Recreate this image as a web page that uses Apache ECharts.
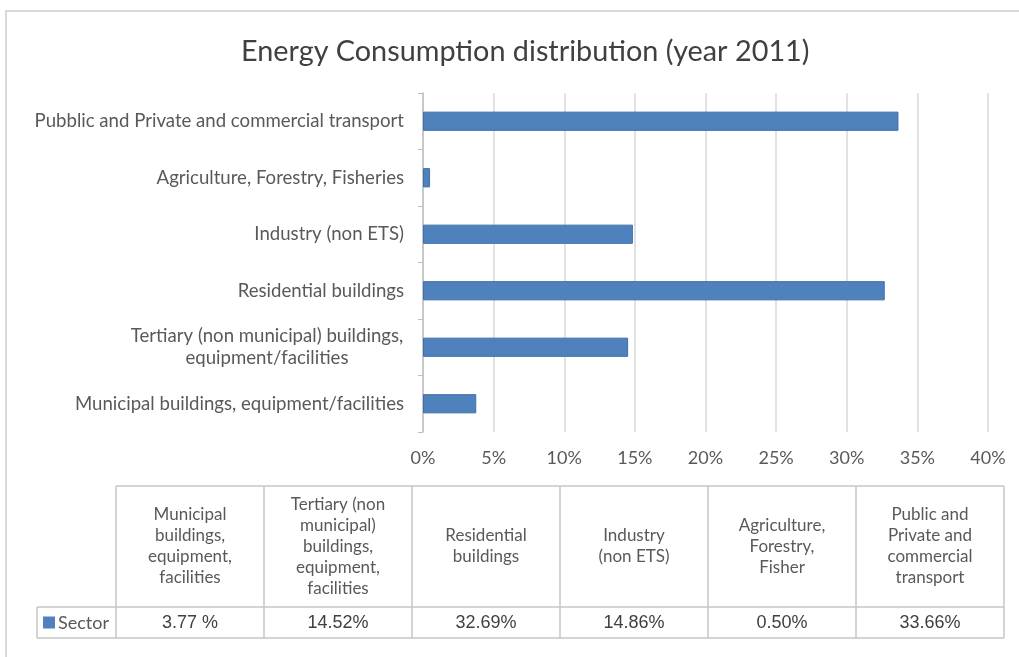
<!DOCTYPE html>
<html>
<head>
<meta charset="utf-8">
<script src="https://cdn.jsdelivr.net/npm/echarts@6/dist/echarts.min.js"></script>
<style>
html,body{margin:0;padding:0;background:#fff;}
#chart{width:1019px;height:657px;}
</style>
</head>
<body>
<div id="chart"></div>
<script>
// ---- data ----
const categories = [
  'Municipal buildings, equipment/facilities',
  'Tertiary (non municipal) buildings,\nequipment/facilities',
  'Residential buildings',
  'Industry (non ETS)',
  'Agriculture, Forestry, Fisheries',
  'Pubblic and Private and commercial transport'
];
const values = [3.77, 14.52, 32.69, 14.86, 0.50, 33.66];
const tableHeaders = [
  'Municipal\nbuildings,\nequipment,\nfacilities',
  'Tertiary (non\nmunicipal)\nbuildings,\nequipment,\nfacilities',
  'Residential\nbuildings',
  'Industry\n(non ETS)',
  'Agriculture,\nForestry,\nFisher',
  'Public and\nPrivate and\ncommercial\ntransport'
];
const tableValues = ['3.77 %', '14.52%', '32.69%', '14.86%', '0.50%', '33.66%'];
const seriesName = 'Sector';
const xTicks = [0, 5, 10, 15, 20, 25, 30, 35, 40];

// ---- styling ----
const FONT = 'Lato';
const LABEL_SIZE = 18;
const YLABEL_SIZE = 18.6;
const barColor = '#4F81BD';
const gridColor = '#d9d9d9';
const textColor = '#595959';

const measureCtx = document.createElement('canvas').getContext('2d');
measureCtx.font = YLABEL_SIZE + 'px ' + FONT;
function lineWidthMax(s) {
  return Math.max(...s.split('\n').map(l => measureCtx.measureText(l).width));
}

// table geometry
const tX0 = 37, tKeyW = 79, tColW = 148, tY0 = 486, tHeadH = 121, tRowH = 31;
const borderColor = '#c6c6c6';

const graphics = [];
graphics.push({type:'rect', shape:{x:6, y:11, width:1030, height:680},
  style:{fill:'none', stroke:'#d9d9d9', lineWidth:2}, silent:true});

const tx1 = tX0 + tKeyW;
const tEnd = tx1 + tColW * tableHeaders.length;
const ls = {stroke:borderColor, lineWidth:1.5};
graphics.push({type:'line', shape:{x1:tx1, y1:tY0, x2:tEnd, y2:tY0}, style:ls});
graphics.push({type:'line', shape:{x1:tX0, y1:tY0+tHeadH, x2:tEnd, y2:tY0+tHeadH}, style:ls});
graphics.push({type:'line', shape:{x1:tX0, y1:tY0+tHeadH+tRowH, x2:tEnd, y2:tY0+tHeadH+tRowH}, style:ls});
graphics.push({type:'line', shape:{x1:tX0, y1:tY0+tHeadH, x2:tX0, y2:tY0+tHeadH+tRowH}, style:ls});
for (let i = 0; i <= tableHeaders.length; i++) {
  const x = tx1 + i * tColW;
  graphics.push({type:'line', shape:{x1:x, y1:tY0, x2:x, y2:tY0+tHeadH+tRowH}, style:ls});
}
tableHeaders.forEach((h, i) => {
  const cx = tx1 + i * tColW + tColW / 2;
  graphics.push({type:'text', x:cx, y:tY0 + tHeadH/2,
    style:{text:h, fill:textColor, font:'17px ' + FONT, align:'center', verticalAlign:'middle', lineHeight:21}});
  graphics.push({type:'text', x:cx, y:tY0 + tHeadH + tRowH/2 + 1,
    style:{text:tableValues[i], fill:'#404040', font:'18px "Liberation Sans", Arial', align:'center', verticalAlign:'middle'}});
});
graphics.push({type:'rect', shape:{x:tX0+6, y:tY0+tHeadH+tRowH/2-6, width:12, height:12}, style:{fill:barColor}});
graphics.push({type:'text', x:tX0+21, y:tY0+tHeadH+tRowH/2+1,
  style:{text:seriesName, fill:textColor, font:'18px ' + FONT, align:'left', verticalAlign:'middle'}});

const chart = echarts.init(document.getElementById('chart'), null, {renderer:'canvas'});
chart.setOption({
  animation:false,
  backgroundColor:'#fff',
  title:{
    text:'Energy Consumption distribution (year 2011)',
    left:236, top:32,
    textStyle:{fontFamily:FONT, fontSize:28.8, fontWeight:'normal', color:'#404040'}
  },
  grid:{left:423, right:31, top:93, bottom:225, containLabel:false},
  xAxis:{
    type:'value', min:xTicks[0], max:xTicks[xTicks.length-1], interval:5,
    axisLine:{show:false}, axisTick:{show:false},
    splitLine:{lineStyle:{color:gridColor, width:1.5}},
    axisLabel:{formatter:v => v + '%', color:textColor, fontFamily:FONT, fontSize:LABEL_SIZE, margin:17}
  },
  yAxis:{
    type:'category', data:categories,
    axisLine:{show:true, lineStyle:{color:'#bfbfbf', width:1.5}},
    axisTick:{show:true, length:5, lineStyle:{color:'#bfbfbf'}},
    axisLabel:{
      color:textColor, fontFamily:FONT, fontSize:YLABEL_SIZE, margin:19, align:'right',
      formatter: v => {
        if (v.indexOf('\n') < 0) return v;
        const w = Math.ceil(lineWidthMax(v)) + 1;
        return v.split('\n').map(l => '{c' + w + '|' + l + '}').join('\n');
      },
      rich: (() => {
        const r = {};
        categories.filter(c => c.indexOf('\n') >= 0).forEach(c => {
          const w = Math.ceil(lineWidthMax(c)) + 1;
          r['c' + w] = {width:w, align:'center', fontFamily:FONT, fontSize:YLABEL_SIZE, color:textColor, lineHeight:22};
        });
        return r;
      })()
    }
  },
  series:[{
    name:seriesName, type:'bar', data:values, barWidth:'34%',
    itemStyle:{color:barColor, borderColor:'#3E6FA8', borderWidth:1}
  }],
  graphic:graphics
});
</script>
</body>
</html>
